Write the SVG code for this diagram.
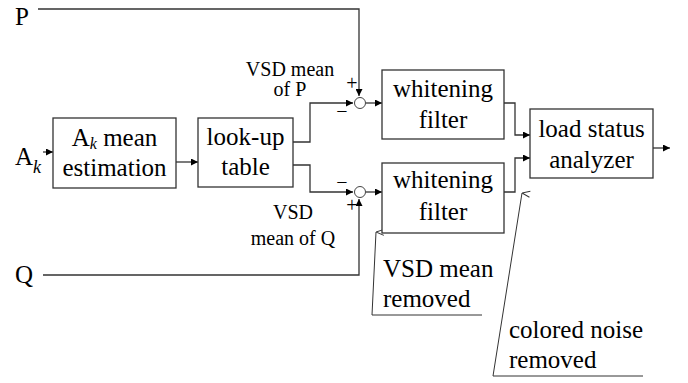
<svg xmlns="http://www.w3.org/2000/svg" width="688" height="383" viewBox="0 0 688 383">
<defs>
<style>
.box{fill:#fff;stroke:#333;stroke-width:1.3}
.ln{fill:none;stroke:#333;stroke-width:1.3}
.thin{fill:none;stroke:#333;stroke-width:1}
.t{font-family:"Liberation Serif","Times New Roman",serif;font-size:25px;fill:#000}
.s{font-family:"Liberation Serif","Times New Roman",serif;font-size:20px;fill:#000}
.c{text-anchor:middle}
</style>
<marker id="ah" viewBox="0 0 10 10" refX="10" refY="5" markerWidth="7" markerHeight="7" markerUnits="userSpaceOnUse" orient="auto">
<path d="M0,0 L10,5 L0,10 z" fill="#000"/>
</marker>
<marker id="oa" viewBox="0 0 10 10" refX="5" refY="0" markerWidth="10" markerHeight="10" markerUnits="userSpaceOnUse" orient="auto-start-reverse">
<path d="M2,8 L5,0 L8,8" fill="none" stroke="#333" stroke-width="1"/>
</marker>
</defs>
<rect width="688" height="383" fill="#fff"/>
<g id="connectors">
<path class="ln" d="M38,9 H359 V96" marker-end="url(#ah)"/>
<path class="ln" d="M43,275 H359 V199" marker-end="url(#ah)"/>
<path class="ln" d="M43,152 H53" marker-end="url(#ah)"/>
<path class="ln" d="M176,162 H198" marker-end="url(#ah)"/>
<path class="ln" d="M293,142 H310 V103 H353" marker-end="url(#ah)"/>
<path class="ln" d="M293,165 H310 V192 H353" marker-end="url(#ah)"/>
<path class="ln" d="M366,103 H382" marker-end="url(#ah)"/>
<path class="ln" d="M366,192 H382" marker-end="url(#ah)"/>
<path class="ln" d="M504,103 H515 V135 H530" marker-end="url(#ah)"/>
<path class="ln" d="M504,192 H515 V158 H530" marker-end="url(#ah)"/>
<path class="ln" d="M653,148 H670" marker-end="url(#ah)"/>
<path class="thin" d="M482,315 H372 L376,232" marker-end="url(#oa)"/>
<path class="thin" d="M643,376 H493 L522,193" marker-end="url(#oa)"/>
</g>
<g id="sum1"><circle cx="360" cy="103" r="5.5" fill="#fff" stroke="#444" stroke-width="1"/></g>
<g id="sum2"><circle cx="360" cy="192" r="5.5" fill="#fff" stroke="#444" stroke-width="1"/></g>
<g id="signs">
<text class="s" x="352" y="90" text-anchor="middle">+</text>
<text class="s" x="342" y="118" text-anchor="middle">−</text>
<text class="s" x="342" y="189" text-anchor="middle">−</text>
<text class="s" x="352" y="212" text-anchor="middle">+</text>
</g>
<g id="inputs">
<text class="t" x="15" y="25">P</text>
<text class="t" x="15" y="283">Q</text>
<text class="t" x="15" y="165">A<tspan font-style="italic" font-size="18" dy="8">k</tspan></text>
</g>
<g id="estimation">
<rect class="box" x="53" y="118" width="123" height="70"/>
<text class="t c" x="114.5" y="146" font-size="24">A<tspan font-style="italic" font-size="16" dy="3">k</tspan><tspan dy="-3"> mean</tspan></text>
<text class="t c" x="114.5" y="176">estimation</text>
</g>
<g id="lookup">
<rect class="box" x="198" y="118" width="95" height="69"/>
<text class="t c" x="245.5" y="145">look-up</text>
<text class="t c" x="245.5" y="175">table</text>
</g>
<g id="labelP">
<text class="s c" x="290" y="76">VSD mean</text>
<text class="s c" x="290" y="96">of P</text>
</g>
<g id="labelQ">
<text class="s c" x="293" y="219">VSD</text>
<text class="s c" x="293" y="245">mean of Q</text>
</g>
<g id="filter1">
<rect class="box" x="382" y="70" width="122" height="69"/>
<text class="t c" x="443" y="97">whitening</text>
<text class="t c" x="443" y="128">filter</text>
</g>
<g id="filter2">
<rect class="box" x="382" y="163" width="122" height="70"/>
<text class="t c" x="443" y="188">whitening</text>
<text class="t c" x="443" y="220">filter</text>
</g>
<g id="analyzer">
<rect class="box" x="530" y="109" width="123" height="69"/>
<text class="t c" x="591.5" y="137">load status</text>
<text class="t c" x="591.5" y="168">analyzer</text>
</g>
<g id="note1">
<text class="t" x="383" y="277">VSD mean</text>
<text class="t" x="383" y="307">removed</text>
</g>
<g id="note2">
<text class="t" x="509" y="338">colored noise</text>
<text class="t" x="509" y="368">removed</text>
</g>
</svg>
